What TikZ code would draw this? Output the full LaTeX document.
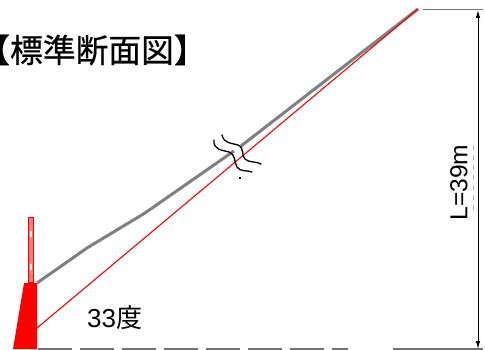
\documentclass[tikz,border=0pt]{standalone}
\usepackage{fontspec}
\usetikzlibrary{arrows.meta}
\setmainfont{Liberation Sans}
\newfontfamily\cjk{Noto Sans CJK JP}
\newfontfamily\cjkb[FakeBold=0.6]{Noto Sans CJK JP}
\tikzset{
  slope/.style={draw=black!50,line width=3pt,line join=round},
  redline/.style={draw=red,line width=1.1pt},
  dimline/.style={draw=black!55,line width=1.7pt},
  wiggle/.style={draw=black,line width=1.3pt,line cap=round},
  lab/.style={inner sep=0pt,text=black}
}
\begin{document}
\begin{tikzpicture}[x=1pt,y=-1pt]
\useasboundingbox (0,0) rectangle (485,350);
\fill[white] (0,0) rectangle (485,350);
% title
\node[lab,font=\cjkb\fontsize{32.75}{34}\selectfont] (title) at (92,50) {【標準断面図】};
% ground dashes
\draw[dimline,dash pattern=on 34pt off 8pt] (38,349) -- (348,349);
\draw[dimline] (393,349) -- (483,349);
\draw[dimline] (423,9.5) -- (483,9.5);
% slope
\coordinate (s0) at (37,283);
\coordinate (s1) at (87,248);
\coordinate (s2) at (145,213);
\coordinate (s3) at (234,151);
\coordinate (s4) at (241,146);
\coordinate (s5) at (418,9);
\draw[slope] (s0) -- (s1) -- (s2) -- (s3);
\draw[slope] (s4) -- (s5);
\coordinate (r0) at (37,328);
\draw[redline] (r0) -- (s5);
% wall
\fill[red] (24,283) -- (37,283) -- (37,349) -- (13,349) -- cycle;
% fence
\draw[draw=red,fill=red!50,line width=1.1pt] (28.5,217.5) rectangle (33.4,283);
\draw[white,line width=2pt] (31,231) -- (31,237) (31,264) -- (31,270);
% dimension
\coordinate (d0) at (478,10);
\coordinate (d1) at (478,349);
\draw[black,line width=1pt,-{Latex[length=8pt,width=4.5pt]}] (478,180) -- (d0);
\draw[black,line width=1pt,-{Latex[length=8pt,width=4.5pt]}] (478,180) -- (d1);
\draw[gray!60,line width=.8pt,dash pattern=on 5pt off 5pt] (473,145) -- (473,212);
\node[lab,font=\fontsize{24.6}{26}\selectfont,rotate=90] (len) at (459,182.5) {L=39m};
\node[lab,font=\fontsize{26}{27}\selectfont,anchor=west] (ang) at (87,318) {33{\cjk 度}};
% break marks
\draw[wiggle] (214,140) .. controls (213,150) and (222,150) .. (229,152) .. controls (236,155) and (234,162) .. (237,167) .. controls (240,172) and (247,170) .. (252,172);
\draw[wiggle] (222,135) .. controls (224,144) and (232,143) .. (238,145) .. controls (245,148) and (241,156) .. (245,159) .. controls (249,163) and (256,161) .. (261,164);
\fill[black] (239,177) rectangle (241,179.5);
\end{tikzpicture}
\end{document}
